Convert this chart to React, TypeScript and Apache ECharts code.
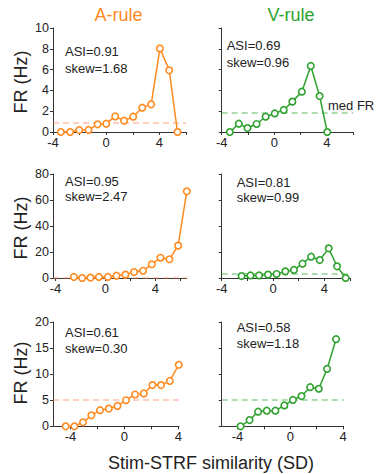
import React, { useEffect, useRef } from "react";
import * as echarts from "echarts";

// ---- data ----
const a1X = [-3.41, -2.71, -2.03, -1.33, -0.65, 0.0, 0.68, 1.35, 2.03, 2.71, 3.38, 4.04, 4.74, 5.36];
const a1Y = [0, 0, 0.19, 0.2, 0.74, 0.8, 1.5, 1.09, 1.47, 2.34, 2.66, 8.04, 5.93, 0];
const a1Med = 0.9;

const v1X = [-3.38, -2.7, -2.04, -1.35, -0.66, 0.03, 0.71, 1.37, 2.09, 2.77, 3.44, 4.02];
const v1Y = [0, 0.8, 0.38, 0.77, 1.47, 1.79, 2.12, 2.92, 3.88, 6.35, 3.46, 0];
const v1Med = 1.89;

const a2X = [-2.53, -1.87, -1.2, -0.53, 0.19, 0.88, 1.6, 2.29, 3.01, 3.71, 4.4, 5.12, 5.81, 6.51];
const a2Y = [0.8, 0, 0.3, 0.8, 0.8, 1.8, 2.6, 4.6, 5.6, 10.5, 15.6, 14.4, 24.9, 66.7];
const a2Med = 0.5;

const v2X = [-2.45, -1.76, -1.09, -0.39, 0.28, 0.96, 1.63, 2.3, 2.97, 3.64, 4.34, 4.99, 5.66];
const v2Y = [1.5, 2, 2, 2.6, 3.1, 5.1, 6.2, 11, 16.4, 13.8, 22.8, 9, 0];
const v2Med = 3.6;

const a3X = [-4.36, -3.71, -3.07, -2.45, -1.81, -1.16, -0.52, 0.12, 0.79, 1.44, 2.08, 2.72, 3.37, 4.03];
const a3Y = [0, 0, 0.77, 2.1, 3.1, 3.4, 3.9, 5.0, 6.1, 6.3, 7.9, 7.9, 8.7, 11.8];
const a3Med = 5.0;

const v3X = [-3.77, -3.09, -2.44, -1.78, -1.13, -0.45, 0.2, 0.85, 1.51, 2.16, 2.79, 3.47];
const v3Y = [0, 1.2, 2.8, 3.0, 3.0, 4.0, 5.05, 5.8, 7.5, 7.2, 11.0, 16.7];
const v3Med = 5.0;

const asiTexts = ["ASI=0.91", "ASI=0.69", "ASI=0.95", "ASI=0.81", "ASI=0.61", "ASI=0.58"];
const skewTexts = ["skew=1.68", "skew=0.96", "skew=2.47", "skew=0.99", "skew=0.30", "skew=1.18"];

const xTickValues = [-4, -2, 0, 2, 4, 6];
const xLabelValues = [-4, 0, 4];
const yMaxByRow = [10, 80, 20];
const yIntervalByRow = [2, 20, 5];

const titles = ["A-rule", "V-rule"];
const yAxisTitle = "FR (Hz)";
const xAxisTitle = "Stim-STRF similarity (SD)";
const medLabel = "med FR";

const ORANGE = "#FF8A1F";
const GREEN = "#2EA12E";
const ORANGE_MED = "rgba(255,130,90,0.5)";
const GREEN_MED = "rgba(60,170,60,0.55)";
const FONT = "Liberation Sans, Arial, sans-serif";

const panels = [
  { xs: a1X, ys: a1Y, med: a1Med, row: 0, col: 0, grid: { left: 53, top: 28, width: 133, height: 104 }, xMin: -4, xMax: 6 },
  { xs: v1X, ys: v1Y, med: v1Med, row: 0, col: 1, grid: { left: 221.7, top: 28, width: 131.6, height: 104 }, xMin: -4, xMax: 6 },
  { xs: a2X, ys: a2Y, med: a2Med, row: 1, col: 0, grid: { left: 53, top: 174, width: 133.7, height: 104 }, xMin: -4.2, xMax: 6.5 },
  { xs: v2X, ys: v2Y, med: v2Med, row: 1, col: 1, grid: { left: 221.7, top: 174, width: 128.3, height: 104 }, xMin: -4, xMax: 6 },
  { xs: a3X, ys: a3Y, med: a3Med, row: 2, col: 0, grid: { left: 53, top: 322, width: 126, height: 104.3 }, xMin: -5.3, xMax: 4.05 },
  { xs: v3X, ys: v3Y, med: v3Med, row: 2, col: 1, grid: { left: 221.7, top: 322, width: 122, height: 104.3 }, xMin: -5.2, xMax: 4.05 },
];

const annotPos = [
  { x: 65, y1: 51.7, y2: 68.3 },
  { x: 226.7, y1: 45, y2: 62 },
  { x: 65, y1: 181.7, y2: 196.7 },
  { x: 236.7, y1: 182.3, y2: 197.7 },
  { x: 65, y1: 332.3, y2: 348.3 },
  { x: 236.7, y1: 327.3, y2: 343.3 },
];

export default function App() {
  const ref = useRef<HTMLDivElement>(null);
  useEffect(() => {
    if (!ref.current) return;
    const chart = echarts.init(ref.current, null, { renderer: "svg" });
    const axisColor = "#333";
    const grid = panels.map((p) => ({ ...p.grid }));
    const xAxis = panels.map((p, i) => ({
      type: "value",
      gridIndex: i,
      position: "bottom",
      min: p.xMin,
      max: p.xMax,
      axisLine: { show: true, onZero: false, lineStyle: { color: axisColor, width: 1 } },
      splitLine: { show: false },
      axisTick: {
        show: true,
        inside: false,
        length: 3,
        lineStyle: { color: axisColor },
        customValues: xTickValues.filter((v) => v >= p.xMin && v <= p.xMax),
      },
      axisLabel: {
        customValues: xLabelValues,
        fontSize: 13,
        color: "#222",
        margin: 4,
        fontFamily: FONT,
      },
    }));
    const yAxis = panels.map((p, i) => ({
      type: "value",
      gridIndex: i,
      position: "left",
      min: 0,
      max: yMaxByRow[p.row],
      interval: yIntervalByRow[p.row],
      axisLine: { show: true, onZero: false, lineStyle: { color: axisColor, width: 1 } },
      splitLine: { show: false },
      axisTick: { show: true, inside: false, length: 3, lineStyle: { color: axisColor } },
      axisLabel: {
        show: p.col === 0,
        fontSize: 12.5,
        color: "#222",
        margin: 4,
        fontFamily: FONT,
      },
    }));
    const series = panels.map((p, i) => {
      const col = p.col === 0 ? ORANGE : GREEN;
      const medCol = p.col === 0 ? ORANGE_MED : GREEN_MED;
      return {
        type: "line",
        xAxisIndex: i,
        yAxisIndex: i,
        data: p.xs.map((x, j) => [x, p.ys[j]]),
        symbol: "circle",
        symbolSize: 6.5,
        clip: false,
        itemStyle: { color: "#fff", borderColor: col, borderWidth: 1.6 },
        lineStyle: { color: col, width: 1.5 },
        z: 3,
        markLine: {
          silent: true,
          symbol: "none",
          label: { show: false },
          z: 1,
          lineStyle: { color: medCol, type: [6, 4], width: 1.5 },
          data: [{ yAxis: p.med }],
        },
      };
    });
    const textStyle = (extra: any) => ({ fontFamily: FONT, fill: "#222", ...extra });
    const graphic: any[] = [
      { type: "text", x: 118.5, y: 15, style: textStyle({ text: titles[0], fontSize: 18, fill: ORANGE, textAlign: "center", textVerticalAlign: "middle" }) },
      { type: "text", x: 291, y: 15, style: textStyle({ text: titles[1], fontSize: 18, fill: GREEN, textAlign: "center", textVerticalAlign: "middle" }) },
      { type: "text", x: 211, y: 463, style: textStyle({ text: xAxisTitle, fontSize: 18, textAlign: "center", textVerticalAlign: "middle" }) },
      { type: "text", x: 328, y: 105, style: textStyle({ text: medLabel, fontSize: 13, textAlign: "left", textVerticalAlign: "middle" }) },
    ];
    [82, 228, 373].forEach((cy) => {
      graphic.push({
        type: "text",
        x: 21,
        y: cy,
        rotation: Math.PI / 2,
        style: textStyle({ text: yAxisTitle, fontSize: 18, textAlign: "center", textVerticalAlign: "middle" }),
      });
    });
    annotPos.forEach((a, i) => {
      graphic.push({ type: "text", x: a.x, y: a.y1, style: textStyle({ text: asiTexts[i], fontSize: 13, textAlign: "left", textVerticalAlign: "middle" }) });
      graphic.push({ type: "text", x: a.x, y: a.y2, style: textStyle({ text: skewTexts[i], fontSize: 13, textAlign: "left", textVerticalAlign: "middle" }) });
    });
    chart.setOption({
      animation: false,
      backgroundColor: "#fff",
      grid,
      xAxis,
      yAxis,
      series,
      graphic,
    } as any);
    return () => chart.dispose();
  }, []);
  return (
    <div
      ref={ref}
      style={{ position: "fixed", left: 0, top: 0, width: 377, height: 474, background: "#fff" }}
    />
  );
}
